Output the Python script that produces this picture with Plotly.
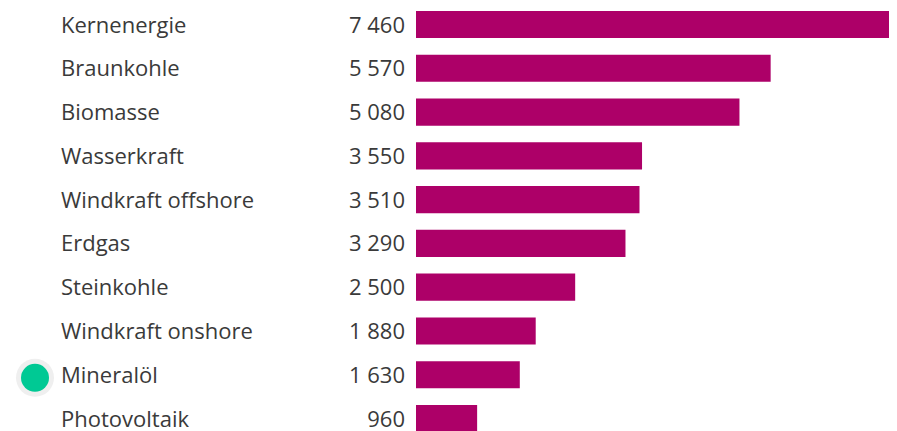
import plotly.graph_objects as go

categories = ["Kernenergie", "Braunkohle", "Biomasse", "Wasserkraft", "Windkraft offshore",
              "Erdgas", "Steinkohle", "Windkraft onshore", "Mineralöl", "Photovoltaik"]
values = [7460, 5570, 5080, 3550, 3510, 3290, 2500, 1880, 1630, 960]
highlight = "Mineralöl"

# page body has an 8px margin: work in window pixels, convert to figure pixels
OFF = 8
W, H = 897 - OFF, 431 - OFF
bar_left_px = 416 - OFF
bar_right_px = 891 - OFF
px_per_unit = (bar_right_px - bar_left_px) / max(values)
x_min = -bar_left_px / px_per_unit
x_max = (W - bar_left_px) / px_per_unit

def px_to_x(p):
    return (p - OFF - bar_left_px) / px_per_unit

row_px = 43.78
first_px = 24.5 - OFF
y_top = -first_px / row_px
y_bot = (H - first_px) / row_px
text_dy = 2.5 / row_px

ypos = list(range(len(categories)))
ytxt = [y + text_dy for y in ypos]

def fmt(v):
    return f"{v:,}".replace(",", " ")

TXT = "#3a3a3a"
fig = go.Figure()
fig.add_trace(go.Bar(
    x=values, y=ypos, orientation="h", width=0.62,
    marker=dict(color="#AD0068", line=dict(width=0)),
    hoverinfo="skip",
))
fig.add_trace(go.Scatter(
    x=[px_to_x(61)] * len(categories), y=ytxt, mode="text",
    text=categories, textposition="middle right",
    textfont=dict(family="Open Sans", size=22, color=TXT, weight=500),
    hoverinfo="skip", cliponaxis=False,
))
fig.add_trace(go.Scatter(
    x=[px_to_x(405)] * len(values), y=ytxt, mode="text",
    text=[fmt(v) for v in values], textposition="middle left",
    textfont=dict(family="Open Sans", size=22, color=TXT, weight=500),
    hoverinfo="skip", cliponaxis=False,
))
hi = categories.index(highlight)
fig.add_trace(go.Scatter(
    x=[px_to_x(35)], y=[hi + 0.07], mode="markers",
    marker=dict(size=38, color="#EFEFEF", line=dict(width=0)),
    hoverinfo="skip", cliponaxis=False,
))
fig.add_trace(go.Scatter(
    x=[px_to_x(35)], y=[hi + 0.07], mode="markers",
    marker=dict(size=28, color="#00C994", line=dict(width=0)),
    hoverinfo="skip", cliponaxis=False,
))

fig.update_layout(
    width=W, height=H, margin=dict(l=0, r=0, t=0, b=0),
    paper_bgcolor="white", plot_bgcolor="white", showlegend=False,
    xaxis=dict(range=[x_min, x_max], visible=False, fixedrange=True),
    yaxis=dict(range=[y_bot, y_top], visible=False, fixedrange=True),
)
fig.write_html("out.html")
